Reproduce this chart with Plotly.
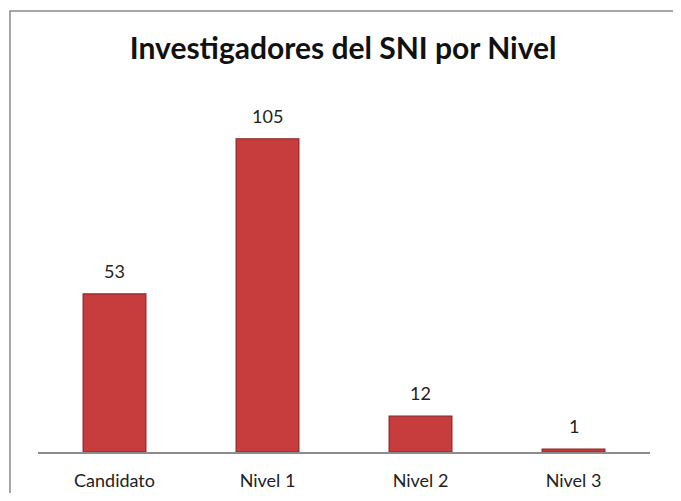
import plotly.graph_objects as go

categories = ["Candidato", "Nivel 1", "Nivel 2", "Nivel 3"]
values = [53, 105, 12, 1]
title_text = "Investigadores del SNI por Nivel"

fig = go.Figure(go.Bar(
    x=categories, y=values,
    marker=dict(color="#C73D3D", line=dict(color="#8E2424", width=1.2)),
    width=0.41,
))

for c, v in zip(categories, values):
    fig.add_annotation(x=c, y=v, text=str(v), showarrow=False,
                       yanchor="bottom", yshift=10,
                       font=dict(family="Lato", size=18, color="#222"))

fig.update_layout(
    width=665, height=485,
    margin=dict(l=30, r=23, t=86, b=41, autoexpand=False),
    paper_bgcolor="white", plot_bgcolor="white",
    showlegend=False,
    title=dict(text="<b>" + title_text + "</b>", x=0.504, xanchor="center",
               y=0.9175, yanchor="middle",
               font=dict(family="Lato", size=30, color="#111")),
    xaxis=dict(showline=True, linecolor="#8c8c8c", linewidth=1.5, ticks="",
               tickfont=dict(family="Lato", size=18, color="#222"),
               ticklabelstandoff=12, automargin=False,
               showgrid=False, fixedrange=True),
    yaxis=dict(range=[0, 120], visible=False, showgrid=False, fixedrange=True,
               automargin=False),
    shapes=[dict(type="rect", xref="paper", yref="paper",
                 x0=-0.0458, x1=1.0565, y0=-0.17, y1=1.2318,
                 line=dict(color="#8a8a8a", width=1.5), fillcolor="rgba(0,0,0,0)",
                 layer="below")],
)

fig.write_html("out.html")
